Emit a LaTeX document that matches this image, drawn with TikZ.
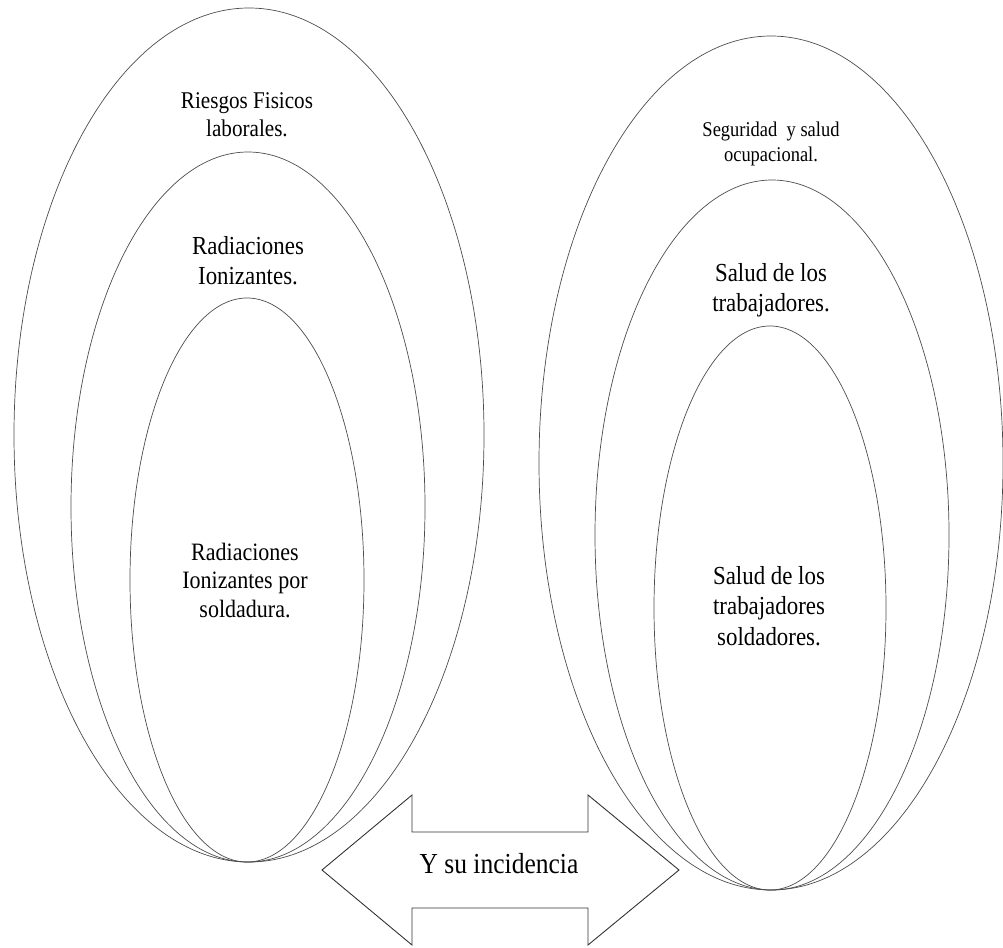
\documentclass[tikz,border=0pt]{standalone}
\usepackage{fontspec}
\setmainfont{Liberation Serif}
\newfontfamily\nfont[FakeStretch=0.88]{Liberation Serif}
\begin{document}
\begin{tikzpicture}[x=1pt,y=-1pt,
  ring/.style={draw=black!70,line width=0.7pt},
  lbl/.style={align=center,inner sep=0pt,text=black},
  arrowshape/.style={draw=black!80,line width=0.9pt,fill=white,line join=miter}]
\useasboundingbox (0,0) rectangle (1003,947);
\begin{scope}
\clip (0,0) rectangle (1003,947);
% left group
\draw[ring] (249,435) ellipse [x radius=235,y radius=427];
\draw[ring] (248,507) ellipse [x radius=177,y radius=355];
\draw[ring] (247,580) ellipse [x radius=117,y radius=282];
% right group
\draw[ring] (771,463) ellipse [x radius=232,y radius=427];
\draw[ring] (772,535) ellipse [x radius=177,y radius=355];
\draw[ring] (770,608) ellipse [x radius=116,y radius=282];
\end{scope}
% labels
\node[lbl,font=\nfont\fontsize{24}{28}\selectfont] (riesgos) at (247,115) {Riesgos Fisicos\\laborales.};
\node[lbl,font=\nfont\fontsize{26}{30}\selectfont] (radion) at (248,261) {Radiaciones\\Ionizantes.};
\node[lbl,font=\nfont\fontsize{25}{28.5}\selectfont] (radsold) at (245,580) {Radiaciones\\Ionizantes por\\soldadura.};
\node[lbl,font=\nfont\fontsize{21}{25}\selectfont] (seguridad) at (771,144) {Seguridad \ y salud\\ocupacional.};
\node[lbl,font=\nfont\fontsize{26}{30}\selectfont] (saludtrab) at (771,290) {Salud de los\\trabajadores.};
\node[lbl,font=\nfont\fontsize{26}{30.5}\selectfont] (saludsold) at (769,606) {Salud de los\\trabajadores\\soldadores.};
% double arrow
\draw[arrowshape] (322,870) -- (412,795) -- (412,832) -- (588,832) -- (588,795)
  -- (679,870) -- (588,945) -- (588,908) -- (412,908) -- (412,945) -- cycle;
\node[lbl,font=\nfont\fontsize{29}{33}\selectfont] (incid) at (499,864) {Y su incidencia};
\end{tikzpicture}
\end{document}
